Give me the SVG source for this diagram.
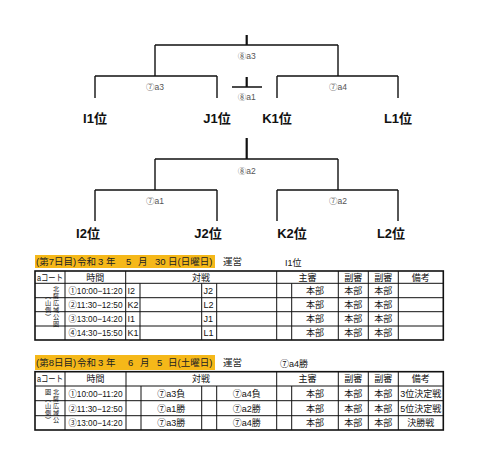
<svg xmlns="http://www.w3.org/2000/svg" width="480" height="461" viewBox="0 0 480 461">
<style>
.ln{stroke:#111;stroke-width:1.4;fill:none}
.st{stroke:#111;stroke-width:2.2;fill:none}
.ml{font-family:"Liberation Sans","Noto Sans CJK JP",sans-serif;font-size:8.5px;fill:#555;text-anchor:middle}
.tm{font-family:"Liberation Sans","Noto Sans CJK JP",sans-serif;font-size:13px;font-weight:bold;fill:#111;text-anchor:middle}
.t{font-family:"Liberation Sans","Noto Sans CJK JP",sans-serif;font-size:9px;fill:#111}
.c{text-anchor:middle}
.v{font-family:"Noto Sans CJK JP",sans-serif;font-size:6.2px;fill:#111;writing-mode:vertical-rl;letter-spacing:0.8px}
.hd{font-family:"Liberation Sans","Noto Sans CJK JP",sans-serif;font-size:9.5px;fill:#222}
.g{stroke:#111;stroke-width:1;fill:none}
.o{stroke:#111;stroke-width:1.6;fill:none}
</style>

<g id="connectors">
<path class="st" d="M246.7,35V45M246.7,77V87M246.7,138V159"/>
<path class="ln" d="M155,45H338M155,45V76M338,45V76M95,76H217M277,76H398M95,76V98M217,76V98M277,76V98M398,76V98M232,87H262"/>
<path class="ln" d="M155,159H338M155,159V190M338,159V190M95,190H217M277,190H398M95,190V221M217,190V221M277,190V221M398,190V221"/>
</g>

<g id="m8a3"><text class="ml" x="246.7" y="59">⑧a3</text></g>
<g id="m7a3"><text class="ml" x="155" y="90">⑦a3</text></g>
<g id="m7a4"><text class="ml" x="338" y="90">⑦a4</text></g>
<g id="m8a1"><text class="ml" x="246.7" y="100">⑧a1</text></g>
<g id="I1"><text class="tm" x="95" y="123">I1位</text></g>
<g id="J1"><text class="tm" x="217" y="123">J1位</text></g>
<g id="K1"><text class="tm" x="277" y="123">K1位</text></g>
<g id="L1"><text class="tm" x="398" y="123">L1位</text></g>

<g id="m8a2"><text class="ml" x="246.7" y="174">⑧a2</text></g>
<g id="m7a1"><text class="ml" x="155" y="204">⑦a1</text></g>
<g id="m7a2"><text class="ml" x="338" y="204">⑦a2</text></g>
<g id="I2"><text class="tm" x="88" y="238">I2位</text></g>
<g id="J2"><text class="tm" x="208" y="238">J2位</text></g>
<g id="K2"><text class="tm" x="292" y="238">K2位</text></g>
<g id="L2"><text class="tm" x="391" y="238">L2位</text></g>

<!-- Table 1 -->
<g id="table1">
<rect x="35" y="255" width="180" height="13" fill="#F5B819"/>
<text class="hd" y="265"><tspan x="36">(第7日目)</tspan><tspan x="77">令和</tspan><tspan x="98">3</tspan><tspan x="106">年</tspan><tspan x="126">5</tspan><tspan x="138">月</tspan><tspan x="155">30</tspan><tspan x="168">日(日曜日)</tspan></text>
<text class="hd" x="223" y="265">運営</text>
<text class="t" x="285" y="266">I1位</text>
<rect class="o" x="35" y="271" width="408.3" height="69"/>
<path class="g" d="M35,283.3H443.3M35,297.7H443.3M35,311.7H443.3M35,326H443.3"/>
<path class="g" d="M65,271V340M125.7,271V340M276.7,271V340M338.3,271V340M368.3,271V340M398.3,271V340"/>
<path class="g" d="M140,283.3V340M201.7,283.3V340M216.7,283.3V340M291.7,283.3V340"/>
<text class="t" x="37" y="280.5" textLength="26" lengthAdjust="spacingAndGlyphs">aコート</text>
<text class="t c" x="95.3" y="280.5">時間</text>
<text class="t c" x="201" y="280.5">対戦</text>
<text class="t c" x="307.5" y="280.5">主審</text>
<text class="t c" x="353.3" y="280.5">副審</text>
<text class="t c" x="383.3" y="280.5">副審</text>
<text class="t c" x="420.8" y="280.5">備考</text>
<text class="t" x="68.5" y="294" textLength="54" lengthAdjust="spacingAndGlyphs">①10:00−11:20</text>
<text class="t" x="68.5" y="308" textLength="54" lengthAdjust="spacingAndGlyphs">②11:30−12:50</text>
<text class="t" x="68.5" y="322" textLength="54" lengthAdjust="spacingAndGlyphs">③13:00−14:20</text>
<text class="t" x="68.5" y="336.3" textLength="54" lengthAdjust="spacingAndGlyphs">④14:30−15:50</text>
<text class="t" x="127.5" y="294">I2</text>
<text class="t" x="127.5" y="308">K2</text>
<text class="t" x="127.5" y="322">I1</text>
<text class="t" x="127.5" y="336.3">K1</text>
<text class="t" x="203.5" y="294">J2</text>
<text class="t" x="203.5" y="308">L2</text>
<text class="t" x="203.5" y="322">J1</text>
<text class="t" x="203.5" y="336.3">L1</text>
<g class="t c">
<text x="315" y="294">本部</text><text x="353.3" y="294">本部</text><text x="383.3" y="294">本部</text>
<text x="315" y="308">本部</text><text x="353.3" y="308">本部</text><text x="383.3" y="308">本部</text>
<text x="315" y="322">本部</text><text x="353.3" y="322">本部</text><text x="383.3" y="322">本部</text>
<text x="315" y="336.3">本部</text><text x="353.3" y="336.3">本部</text><text x="383.3" y="336.3">本部</text>
</g>
<text class="v" x="56" y="286">北薩広域公園</text>
<text class="v" x="48" y="293">（山側）</text>
</g>

<!-- Table 2 -->
<g id="table2">
<rect x="35" y="355" width="180" height="15" fill="#F5B819"/>
<text class="hd" y="366"><tspan x="36">(第8日目)</tspan><tspan x="77">令和</tspan><tspan x="98">3</tspan><tspan x="106">年</tspan><tspan x="128">6</tspan><tspan x="140">月</tspan><tspan x="157">5</tspan><tspan x="168">日(土曜日)</tspan></text>
<text class="hd" x="223" y="366">運営</text>
<text class="t" x="280" y="367">⑦a4勝</text>
<rect class="o" x="35" y="371.7" width="408.3" height="58.3"/>
<path class="g" d="M35,386H443.3M35,400.7H443.3M35,415.7H443.3"/>
<path class="g" d="M65,371.7V430M126,371.7V430M276.7,371.7V430M338.3,371.7V430M368.3,371.7V430M398.3,371.7V430"/>
<path class="g" d="M141,386V430M201.7,386V430M216.7,386V430M291.7,386V430"/>
<text class="t" x="37" y="382" textLength="26" lengthAdjust="spacingAndGlyphs">aコート</text>
<text class="t c" x="95.5" y="382">時間</text>
<text class="t c" x="201" y="382">対戦</text>
<text class="t c" x="307.5" y="382">主審</text>
<text class="t c" x="353.3" y="382">副審</text>
<text class="t c" x="383.3" y="382">副審</text>
<text class="t c" x="420.8" y="382">備考</text>
<text class="t" x="68.5" y="396.7" textLength="54" lengthAdjust="spacingAndGlyphs">①10:00−11:20</text>
<text class="t" x="68.5" y="411.5" textLength="54" lengthAdjust="spacingAndGlyphs">②11:30−12:50</text>
<text class="t" x="68.5" y="426" textLength="54" lengthAdjust="spacingAndGlyphs">③13:00−14:20</text>
<g class="t c">
<text x="171.3" y="396.7">⑦a3負</text><text x="246.7" y="396.7">⑦a4負</text>
<text x="171.3" y="411.5">⑦a1勝</text><text x="246.7" y="411.5">⑦a2勝</text>
<text x="171.3" y="426">⑦a3勝</text><text x="246.7" y="426">⑦a4勝</text>
<text x="315" y="396.7">本部</text><text x="353.3" y="396.7">本部</text><text x="383.3" y="396.7">本部</text>
<text x="315" y="411.5">本部</text><text x="353.3" y="411.5">本部</text><text x="383.3" y="411.5">本部</text>
<text x="315" y="426">本部</text><text x="353.3" y="426">本部</text><text x="383.3" y="426">本部</text>
<text x="420.8" y="396.7">3位決定戦</text>
<text x="420.8" y="411.5">5位決定戦</text>
<text x="420.8" y="426">決勝戦</text>
</g>
<text class="v" x="56" y="389">北薩広域公</text>
<text class="v" x="48" y="389">園（山側）</text>
</g>
</svg>
